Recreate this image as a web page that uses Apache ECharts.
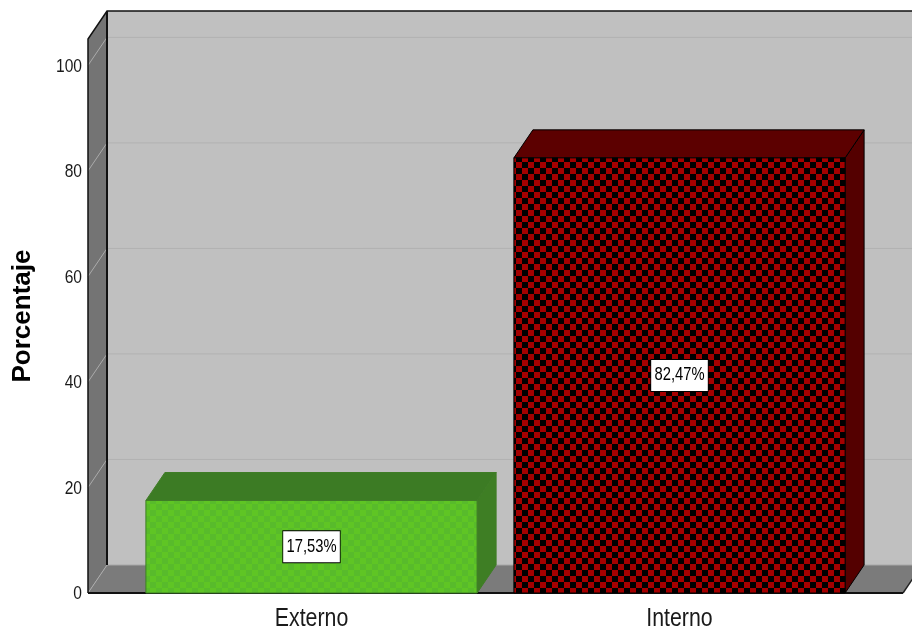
<!DOCTYPE html>
<html>
<head>
<meta charset="utf-8">
<script src="https://cdn.jsdelivr.net/npm/echarts@6/dist/echarts.min.js"></script>
<style>
html,body{margin:0;padding:0;background:#fff;}
#chart{width:912px;height:635px;}
</style>
</head>
<body>
<div id="chart"></div>
<script>
// ---- data ----
const categories = ['Externo', 'Interno'];
const percentages = [17.53, 82.47];
const yTicks = [0, 20, 40, 60, 80, 100];
const yMax = 105;
const yTitle = 'Porcentaje';

// ---- style constants ----
const FONT = '"Liberation Sans", Arial, sans-serif';
const NARROW_SCALE = 0.82;    // emulates a condensed face
const DX = 19, DY = -28;      // 3D depth offset (px)
const WALL_EXT = 39.5;        // floor extends beyond category band (px)

function makeChecker(c1, c2, size) {
  const cv = document.createElement('canvas');
  cv.width = size * 2; cv.height = size * 2;
  const ctx = cv.getContext('2d');
  ctx.fillStyle = c1; ctx.fillRect(0, 0, size * 2, size * 2);
  ctx.fillStyle = c2;
  ctx.fillRect(0, 0, size, size);
  ctx.fillRect(size, size, size, size);
  return cv;
}
const barStyles = [
  { front: { image: makeChecker('#5fc524', '#58bb2b', 6), repeat: 'repeat' }, top: '#3c7b24', side: '#3e7e24', stroke: '#3f7d26' },
  { front: { image: makeChecker('#a40000', '#000000', 6), repeat: 'repeat' }, top: '#5c0000', side: '#540000', stroke: '#000000' }
];

const chart = echarts.init(document.getElementById('chart'), null, { renderer: 'canvas' });

function renderWalls(params, api) {
  const cs = params.coordSys;
  const xl = cs.x - WALL_EXT;
  const xr = cs.x + cs.width + WALL_EXT;
  const y0 = api.coord([0, 0])[1];
  const yTop = api.coord([0, yMax])[1];
  const children = [];
  // back wall
  children.push({ type: 'rect', shape: { x: xl + DX, y: yTop + DY, width: xr - xl + 40, height: y0 - yTop }, style: { fill: '#c0c0c0' } });
  // left wall
  children.push({ type: 'polygon', shape: { points: [[xl, yTop], [xl + DX, yTop + DY], [xl + DX, y0 + DY], [xl, y0]] }, style: { fill: '#747474' } });
  // floor
  children.push({ type: 'polygon', shape: { points: [[xl, y0], [xl + DX, y0 + DY], [xr + DX, y0 + DY], [xr, y0]] }, style: { fill: '#7b7b7b' } });
  // grid lines + tick labels
  yTicks.forEach(function (t) {
    const y = api.coord([0, t])[1];
    children.push({ type: 'line', shape: { x1: xl, y1: y, x2: xl + DX, y2: y + DY }, style: { stroke: '#ababab', lineWidth: 1 } });
    if (t > 0) {
      children.push({ type: 'line', shape: { x1: xl + DX, y1: y + DY, x2: xr + DX + 40, y2: y + DY }, style: { stroke: '#b1b1b1', lineWidth: 1 } });
    }
    children.push({ type: 'text', x: xl - 6, y: y + 1, scaleX: NARROW_SCALE,
      style: { text: String(t), fontFamily: FONT, fontSize: 19, fill: '#1a1a1a', align: 'right', verticalAlign: 'middle' } });
  });
  // back wall bottom edge (lighter)
  children.push({ type: 'line', shape: { x1: xl + DX, y1: y0 + DY, x2: xr + DX + 40, y2: y0 + DY }, style: { stroke: '#a8a8a8', lineWidth: 1 } });
  // edges
  const edge = { stroke: '#111', lineWidth: 1.5, fill: null };
  children.push({ type: 'polyline', shape: { points: [[xl, y0], [xl, yTop], [xl + DX, yTop + DY], [xr + DX + 40, yTop + DY]] }, style: edge });
  children.push({ type: 'line', shape: { x1: xl + DX, y1: yTop + DY, x2: xl + DX, y2: y0 + DY }, style: { stroke: '#111', lineWidth: 2 } });
  children.push({ type: 'line', shape: { x1: xl, y1: y0, x2: xr, y2: y0 }, style: { stroke: '#111', lineWidth: 2 } });
  children.push({ type: 'line', shape: { x1: xr, y1: y0, x2: xr + DX, y2: y0 + DY }, style: { stroke: '#222', lineWidth: 1.5 } });
  return { type: 'group', children: children };
}

function renderBar(params, api) {
  const idx = api.value(0);
  const v = api.value(1);
  const c = api.coord([idx, v]);
  const base = api.coord([idx, 0]);
  const w = api.size([1, 0])[0] * 0.9;
  const xl = c[0] - w / 2, xr = c[0] + w / 2;
  const yt = c[1], yb = base[1];
  const s = barStyles[params.dataIndex];
  const label = v.toFixed(2).replace('.', ',') + '%';
  return {
    type: 'group',
    children: [
      { type: 'polygon', shape: { points: [[xr, yt], [xr + DX, yt + DY], [xr + DX, yb + DY], [xr, yb]] }, style: { fill: s.side, stroke: s.stroke, lineWidth: 1 } },
      { type: 'polygon', shape: { points: [[xl, yt], [xl + DX, yt + DY], [xr + DX, yt + DY], [xr, yt]] }, style: { fill: s.top, stroke: s.stroke, lineWidth: 1 } },
      { type: 'rect', shape: { x: xl, y: yt, width: w, height: yb - yt }, style: { fill: s.front, stroke: s.stroke, lineWidth: 1 } },
      { type: 'text', x: c[0], y: (yt + yb) / 2, scaleX: NARROW_SCALE,
        style: { text: label, fontFamily: FONT, fontSize: 18, fill: '#000', align: 'center', verticalAlign: 'middle',
                 backgroundColor: '#fff', borderColor: '#000', borderWidth: 1, padding: [7, 4, 6, 4] } },
      { type: 'text', x: c[0], y: yb + 13, scaleX: NARROW_SCALE,
        style: { text: categories[params.dataIndex], fontFamily: FONT, fontSize: 26, fill: '#1a1a1a', align: 'center', verticalAlign: 'top' } }
    ]
  };
}

const option = {
  animation: false,
  backgroundColor: '#ffffff',
  grid: { left: 127.5, right: 48.5, top: 39, bottom: 42 },
  xAxis: {
    type: 'category',
    data: categories,
    axisLine: { show: false },
    axisTick: { show: false },
    splitLine: { show: false },
    axisLabel: { show: false }
  },
  yAxis: {
    type: 'value',
    min: 0, max: yMax, interval: 20,
    axisLine: { show: false },
    axisTick: { show: false },
    splitLine: { show: false },
    axisLabel: { show: false }
  },
  graphic: [{
    type: 'text', x: 22.5, y: 316, rotation: Math.PI / 2,
    style: { text: yTitle, fontFamily: FONT, fontWeight: 'bold', fontSize: 26, fill: '#000', align: 'center', verticalAlign: 'middle' }
  }],
  series: [
    { type: 'custom', z: 1, silent: true, clip: false, renderItem: renderWalls, data: [[0, 0]] },
    { type: 'custom', z: 2, clip: false, renderItem: renderBar,
      data: categories.map(function (c, i) { return [i, percentages[i]]; }) }
  ]
};
chart.setOption(option);
</script>
</body>
</html>
